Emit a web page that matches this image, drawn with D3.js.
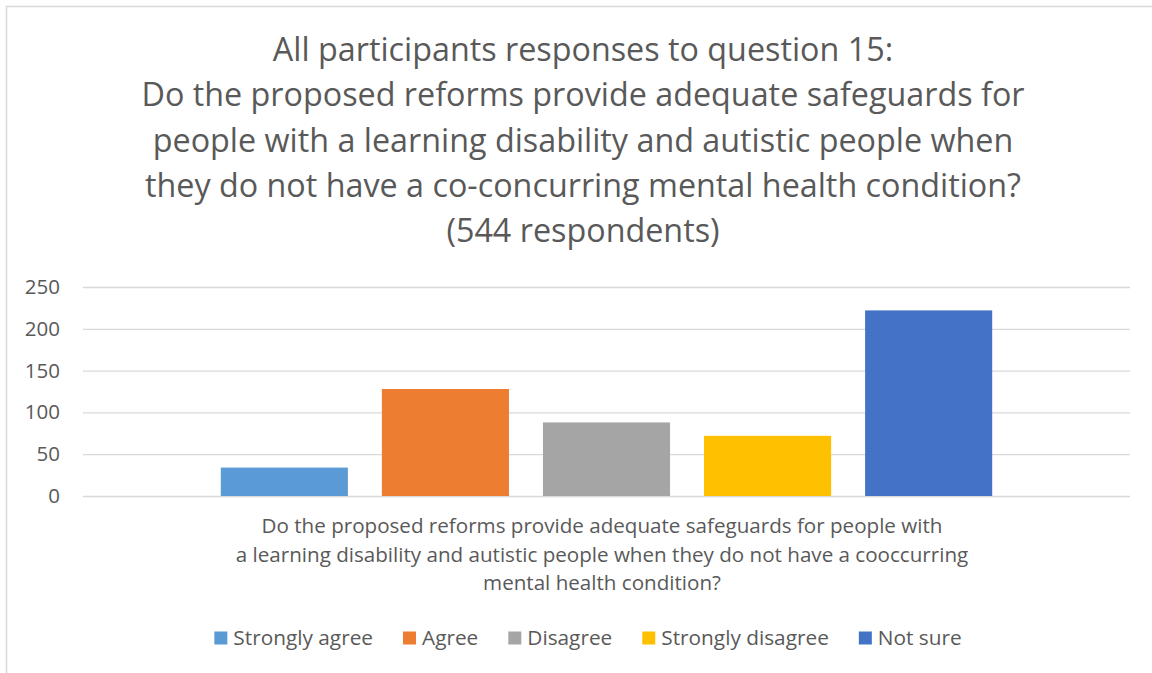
<!DOCTYPE html>
<html><head><meta charset="utf-8">
<script src="https://cdn.jsdelivr.net/npm/d3@7"></script>
<style>
html,body{margin:0;padding:0;background:#fff;}
svg{display:block;font-family:"Open Sans",sans-serif;}
</style></head>
<body><svg id="c" width="1152" height="673"></svg>
<script>
const titleLines = [
  "All participants responses to question 15:",
  "Do the proposed reforms provide adequate safeguards for",
  "people with a learning disability and autistic people when",
  "they do not have a co-concurring mental health condition?",
  "(544 respondents)"
];
const category = "Do the proposed reforms provide adequate safeguards for people with a learning disability and autistic people when they do not have a cooccurring mental health condition?";
const axisTitleLines = [
  "Do the proposed reforms provide adequate safeguards for people with",
  "a learning disability and autistic people when they do not have a cooccurring",
  "mental health condition?"
];
const seriesNames = ["Strongly agree", "Agree", "Disagree", "Strongly disagree", "Not sure"];
const seriesValues = [34, 128, 88, 72, 222];
const seriesColors = ["#5B9BD5", "#ED7D31", "#A5A5A5", "#FFC000", "#4472C4"];
const yTicks = [0, 50, 100, 150, 200, 250];

const svg = d3.select("#c");
const textColor = "#595959";
const FONT = '"Open Sans",sans-serif';

// border
svg.append("path").attr("d", "M6.5,673V6.5H1152").attr("fill", "none").attr("stroke", "#d9d9d9").attr("stroke-width", 1.5);

// title
const title = svg.append("text").attr("fill", textColor).attr("font-size", 32.3).attr("text-anchor", "middle");
titleLines.forEach((l, i) => {
  title.append("tspan").attr("x", 583).attr("y", 61 + i * 45.3).text(l);
});

// scales
const plot = {left: 83, right: 1130, top: 287, bottom: 496};
const y = d3.scaleLinear().domain([0, 250]).range([plot.bottom, plot.top]);
const x0 = d3.scaleBand().domain([category]).range([plot.left, plot.right]).paddingInner(0).paddingOuter(0.15);
const x1 = d3.scaleBand().domain(seriesNames).range([0, x0.bandwidth()]).paddingInner(0.211).paddingOuter(0.1055);

// gridlines + tick labels
const yAxis = d3.axisLeft(y).tickValues(yTicks).tickSize(-(plot.right - plot.left)).tickPadding(23);
const gy = svg.append("g").attr("transform", `translate(${plot.left},0)`).call(yAxis);
gy.select(".domain").remove();
gy.selectAll(".tick line").attr("stroke", "#d9d9d9").attr("stroke-width", 1.3);
gy.selectAll(".tick text").attr("fill", textColor).attr("font-size", 20.5).attr("font-family", FONT);

// bars
const g = svg.append("g").attr("transform", `translate(${x0(category)},0)`);
g.selectAll("rect").data(seriesNames.map((n, i) => ({n, v: seriesValues[i], c: seriesColors[i]})))
  .join("rect")
  .attr("x", d => x1(d.n))
  .attr("width", x1.bandwidth())
  .attr("y", d => y(d.v))
  .attr("height", d => y(0) - y(d.v))
  .attr("fill", d => d.c);

// axis title (category label)
const at = svg.append("text").attr("fill", textColor).attr("font-size", 20.6).attr("text-anchor", "middle");
axisTitleLines.forEach((l, i) => {
  at.append("tspan").attr("x", 602).attr("y", 533 + i * 28.5).text(l);
});

// legend
const lg = svg.append("g");
let cx = 0;
seriesNames.forEach((n, i) => {
  const it = lg.append("g");
  it.append("rect").attr("x", 0).attr("y", -6.5).attr("width", 13).attr("height", 13).attr("fill", seriesColors[i]);
  const t = it.append("text").attr("x", 19).attr("y", 0).attr("dy", "0.35em").attr("fill", textColor).attr("font-size", 20.8).text(n);
  const w = 19 + t.node().getComputedTextLength();
  it.attr("transform", `translate(${cx},0)`);
  cx += w + 30;
});
const total = cx - 30;
lg.attr("transform", `translate(${588 - total / 2},638)`);
</script>
</body></html>
